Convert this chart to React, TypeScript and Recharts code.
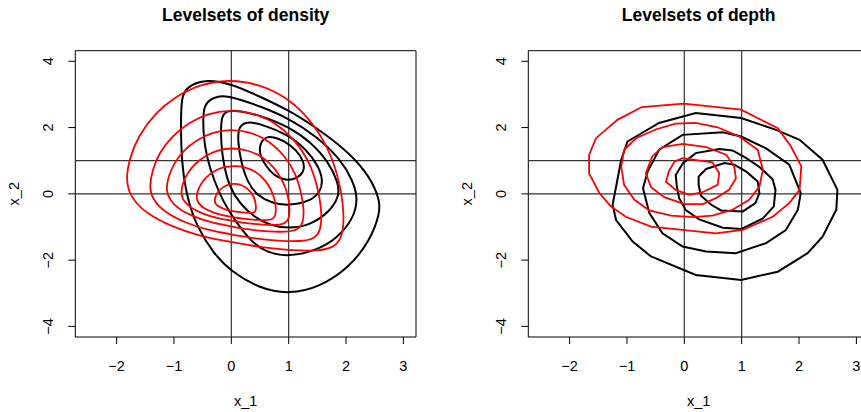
import { ScatterChart, Scatter, XAxis, YAxis, ReferenceLine, ReferenceArea } from "recharts";

type Pt = [number, number];

const X_TICKS = [-2, -1, 0, 1, 2, 3];
const Y_TICKS = [-4, -2, 0, 2, 4];
const X_DOMAIN: [number, number] = [-2.72, 3.22];
const Y_DOMAIN: [number, number] = [-4.32, 4.32];
const GUIDE_X = [0, 1];
const GUIDE_Y = [0, 1];

// left panel: density level sets, black (outer -> inner)
const densBlack1: Pt[] = [[-0.78, 3.21], [-0.49, 3.46], [0, 3.33], [0.5, 2.93], [1, 2.53], [1.55, 1.92], [2.07, 1.22], [2.42, 0.51], [2.59, -0.19], [2.59, -0.59], [2.42, -1.4], [2.07, -2.2], [1.55, -2.81], [1, -3.03], [0.5, -2.86], [0, -2.35], [-0.31, -1.8], [-0.6, -1.0], [-0.78, -0.09], [-0.87, 1.02], [-0.88, 2.12], [-0.87, 2.93]];
const densBlack2: Pt[] = [[-0.45, 2.78], [-0.2, 2.98], [0, 2.93], [0.5, 2.65], [1, 2.28], [1.5, 1.72], [1.9, 1.05], [2.12, 0.4], [2.21, -0.14], [2.13, -0.75], [1.84, -1.35], [1.49, -1.7], [1.01, -1.9], [0.62, -1.78], [0.35, -1.45], [0.06, -0.8], [-0.14, -0.24], [-0.3, 0.4], [-0.43, 1.1], [-0.49, 1.8], [-0.49, 2.45]];
const densBlack3: Pt[] = [[-0.14, 2.45], [0.05, 2.55], [0.5, 2.37], [1, 2.03], [1.4, 1.55], [1.7, 0.95], [1.86, 0.35], [1.89, -0.04], [1.72, -0.54], [1.37, -0.95], [1.0, -1.05], [0.67, -0.95], [0.4, -0.7], [0.15, -0.3], [-0.03, 0.2], [-0.13, 0.85], [-0.18, 1.5], [-0.18, 2.2]];
const densBlack4: Pt[] = [[0.13, 2.05], [0.27, 2.18], [0.5, 2.12], [1, 1.78], [1.3, 1.35], [1.52, 0.85], [1.6, 0.4], [1.55, 0.05], [1.38, -0.22], [1.0, -0.36], [0.7, -0.28], [0.45, -0.05], [0.28, 0.35], [0.17, 0.95], [0.11, 1.6]];
const densBlack5: Pt[] = [[0.62, 1.72], [0.73, 1.72], [0.91, 1.62], [1.14, 1.32], [1.27, 0.97], [1.27, 0.66], [1.14, 0.46], [0.96, 0.39], [0.73, 0.56], [0.59, 0.87], [0.47, 1.27], [0.53, 1.62]];

// left panel: density level sets, red (outer -> inner)
const densRed1: Pt[] = [[-1.84, 0.41], [-1.78, 1.05], [-1.62, 1.75], [-1.34, 2.42], [-0.98, 2.93], [-0.55, 3.3], [-0.05, 3.45], [0.45, 3.33], [1.0, 2.9], [1.45, 2.1], [1.75, 1.17], [1.9, 0.25], [1.97, -0.6], [1.94, -1.3], [1.8, -1.62], [1.5, -1.73], [1.0, -1.7], [0.45, -1.6], [0, -1.45], [-0.55, -1.28], [-1.05, -0.98], [-1.48, -0.6], [-1.76, -0.1]];
const densRed2: Pt[] = [[-1.43, 0.2], [-1.38, 0.7], [-1.26, 1.24], [-1.03, 1.75], [-0.75, 2.14], [-0.41, 2.43], [-0.02, 2.54], [0.38, 2.45], [0.81, 2.12], [1.17, 1.51], [1.41, 0.79], [1.52, 0.08], [1.58, -0.57], [1.56, -1.11], [1.45, -1.36], [1.21, -1.44], [0.81, -1.42], [0.38, -1.34], [0.02, -1.23], [-0.41, -1.1], [-0.81, -0.87], [-1.15, -0.57], [-1.37, -0.19]];
const densRed3: Pt[] = [[-1.14, 0.13], [-1.1, 0.51], [-1.0, 0.93], [-0.82, 1.34], [-0.59, 1.64], [-0.32, 1.86], [-0.01, 1.95], [0.31, 1.88], [0.65, 1.62], [0.94, 1.14], [1.13, 0.59], [1.22, 0.03], [1.27, -0.48], [1.25, -0.9], [1.16, -1.09], [0.97, -1.15], [0.65, -1.14], [0.31, -1.08], [0.02, -0.99], [-0.32, -0.88], [-0.64, -0.7], [-0.91, -0.48], [-1.08, -0.18]];
const densRed4: Pt[] = [[-0.88, 0.02], [-0.85, 0.31], [-0.77, 0.62], [-0.63, 0.92], [-0.45, 1.15], [-0.24, 1.32], [0.01, 1.39], [0.26, 1.33], [0.54, 1.14], [0.76, 0.78], [0.91, 0.36], [0.99, -0.05], [1.02, -0.44], [1.01, -0.75], [0.94, -0.9], [0.79, -0.95], [0.54, -0.93], [0.26, -0.89], [0.04, -0.82], [-0.24, -0.74], [-0.49, -0.61], [-0.7, -0.44], [-0.84, -0.21]];
const densRed5: Pt[] = [[-0.61, -0.12], [-0.59, 0.09], [-0.53, 0.31], [-0.43, 0.52], [-0.3, 0.69], [-0.14, 0.81], [0.04, 0.85], [0.23, 0.82], [0.43, 0.68], [0.59, 0.42], [0.7, 0.12], [0.76, -0.17], [0.78, -0.44], [0.77, -0.67], [0.72, -0.77], [0.61, -0.8], [0.43, -0.79], [0.23, -0.76], [0.06, -0.71], [-0.14, -0.66], [-0.32, -0.56], [-0.48, -0.44], [-0.58, -0.28]];
const densRed6: Pt[] = [[-0.29, -0.21], [-0.28, -0.1], [-0.25, 0.02], [-0.2, 0.13], [-0.13, 0.22], [-0.05, 0.28], [0.05, 0.31], [0.14, 0.29], [0.25, 0.21], [0.33, 0.08], [0.39, -0.08], [0.42, -0.24], [0.43, -0.38], [0.43, -0.5], [0.4, -0.56], [0.34, -0.58], [0.25, -0.57], [0.14, -0.55], [0.06, -0.53], [-0.05, -0.5], [-0.14, -0.45], [-0.22, -0.38], [-0.28, -0.3]];

// right panel: depth level sets, black (outer -> inner)
const depthBlack1: Pt[] = [[-0.99, 1.58], [-0.44, 2.14], [0.2, 2.44], [0.99, 2.29], [1.6, 1.93], [2.01, 1.63], [2.41, 1.03], [2.67, 0.12], [2.65, -0.48], [2.41, -1.29], [2.15, -1.79], [1.63, -2.35], [0.99, -2.6], [0.2, -2.45], [-0.58, -1.89], [-0.9, -1.44], [-1.19, -0.79], [-1.25, -0.33], [-1.1, 1.03]];
const depthBlack2: Pt[] = [[-0.72, 0.17], [-0.64, 0.67], [-0.44, 1.33], [-0.03, 1.78], [0.67, 1.86], [0.99, 1.73], [1.42, 1.38], [1.83, 0.88], [2.03, 0.02], [1.98, -0.48], [1.77, -1.09], [1.42, -1.49], [0.9, -1.79], [0.38, -1.74], [-0.03, -1.59], [-0.38, -1.19], [-0.61, -0.58]];
const depthBlack3: Pt[] = [[-0.15, 0.57], [-0.02, 0.93], [0.2, 1.23], [0.61, 1.35], [0.84, 1.31], [1.08, 1.08], [1.31, 0.81], [1.54, 0.44], [1.59, 0.12], [1.56, -0.38], [1.37, -0.74], [1.0, -1.06], [0.67, -1.02], [0.26, -0.77], [0.03, -0.5], [-0.09, -0.13], [-0.13, 0.22]];
const depthBlack4: Pt[] = [[0.25, 0.52], [0.38, 0.75], [0.7, 0.93], [0.87, 0.88], [1.08, 0.67], [1.28, 0.37], [1.31, 0.02], [1.24, -0.28], [1.02, -0.53], [0.64, -0.5], [0.47, -0.33], [0.29, -0.06], [0.25, 0.27]];

// right panel: depth level sets, red (outer -> inner)
const depthRed1: Pt[] = [[-1.66, 1.18], [-1.54, 1.68], [-1.16, 2.24], [-0.74, 2.62], [-0.01, 2.72], [0.99, 2.54], [1.63, 1.98], [1.86, 1.43], [2.04, 0.83], [2.01, 0.12], [1.83, -0.28], [1.54, -0.69], [1.02, -1.09], [0.55, -1.19], [-0.58, -0.99], [-1.02, -0.69], [-1.28, -0.38], [-1.48, 0.02], [-1.66, 0.62]];
const depthRed2: Pt[] = [[-1.1, 0.83], [-1.05, 1.33], [-0.84, 1.68], [-0.49, 1.95], [-0.15, 2.12], [0.2, 2.14], [0.58, 2.01], [0.96, 1.73], [1.28, 1.33], [1.37, 0.73], [1.31, 0.22], [1.13, -0.18], [0.84, -0.48], [0.49, -0.66], [0.15, -0.7], [-0.23, -0.66], [-0.61, -0.5], [-0.87, -0.18], [-1.05, 0.27]];
const depthRed3: Pt[] = [[-0.67, 0.62], [-0.56, 1.13], [-0.38, 1.41], [-0.02, 1.51], [0.38, 1.41], [0.73, 1.18], [0.87, 0.83], [0.9, 0.47], [0.78, 0.12], [0.55, -0.13], [0.32, -0.31], [0, -0.31], [-0.35, -0.1], [-0.58, 0.2]];
const depthRed4: Pt[] = [[-0.32, 0.37], [-0.27, 0.67], [-0.17, 0.98], [-0.03, 1.08], [0.49, 0.95], [0.61, 0.62], [0.58, 0.27], [0.32, 0.05], [0.09, -0.03], [-0.15, 0.12]];

const FONT = '"Liberation Sans", Arial, Helvetica, sans-serif';
const PANEL_W = 454;
const PANEL_STEP = 453.4;

const toPts = (c: Pt[]) => c.map(([x, y]) => ({ x, y }));
const noDot = () => <g />;
const fmt = (v: number) => (v < 0 ? `\u2212${Math.abs(v)}` : `${v}`);

function XTick({ x, payload }: any) {
  return (
    <text x={x} y={370.5} textAnchor="middle" fontSize={14.5} fontFamily={FONT} fill="#000">
      {fmt(payload.value)}
    </text>
  );
}

function YTick({ y, payload }: any) {
  return (
    <text x={53.5} y={y} transform={`rotate(-90 53.5 ${y})`} textAnchor="middle" fontSize={14.5} fontFamily={FONT} fill="#000">
      {fmt(payload.value)}
    </text>
  );
}

interface PanelProps {
  left: number;
  title: string;
  black: Pt[][];
  red: Pt[][];
  curve: "basisClosed" | "linearClosed";
}

function Panel({ left, title, black, red, curve }: PanelProps) {
  return (
    <div style={{ position: "absolute", left, top: 0, width: PANEL_W, height: 412 }}>
      <ScatterChart width={PANEL_W} height={412} margin={{ top: 50.7, right: 38, bottom: 0, left: 0 }}>
        <XAxis
          type="number"
          dataKey="x"
          domain={X_DOMAIN}
          ticks={X_TICKS}
          interval={0}
          allowDataOverflow
          axisLine={false}
          tickLine={{ stroke: "#000" }}
          tickSize={7}
          tick={<XTick />}
          height={75}
        />
        <YAxis
          type="number"
          dataKey="y"
          domain={Y_DOMAIN}
          ticks={Y_TICKS}
          interval={0}
          allowDataOverflow
          axisLine={false}
          tickLine={{ stroke: "#000" }}
          tickSize={7}
          tick={<YTick />}
          width={75.3}
        />
        {GUIDE_X.map((v) => (
          <ReferenceLine key={`gx${v}`} x={v} stroke="#333" strokeWidth={1.2} />
        ))}
        {GUIDE_Y.map((v) => (
          <ReferenceLine key={`gy${v}`} y={v} stroke="#333" strokeWidth={1.2} />
        ))}
        {black.map((c, i) => (
          <Scatter
            key={`b${i}`}
            data={toPts(c)}
            fill="#000"
            line={{ stroke: "#000", strokeWidth: 2 }}
            lineJointType={curve}
            shape={noDot}
            isAnimationActive={false}
          />
        ))}
        {red.map((c, i) => (
          <Scatter
            key={`r${i}`}
            data={toPts(c)}
            fill="#ff0000"
            line={{ stroke: "#ff0000", strokeWidth: 1.8 }}
            lineJointType={curve}
            shape={noDot}
            isAnimationActive={false}
          />
        ))}
        <ReferenceArea
          x1={X_DOMAIN[0]}
          x2={X_DOMAIN[1]}
          y1={Y_DOMAIN[0]}
          y2={Y_DOMAIN[1]}
          fill="none"
          fillOpacity={0}
          stroke="#000"
          strokeWidth={1}
        />
      </ScatterChart>
      <svg width={PANEL_W} height={412} style={{ position: "absolute", left: 0, top: 0, pointerEvents: "none" }}>
        <text x={245.7} y={20.7} textAnchor="middle" fontWeight="bold" fontSize={17.5} fontFamily={FONT} fill="#000">
          {title}
        </text>
        <text x={245.7} y={405.5} textAnchor="middle" fontSize={14.5} fontFamily={FONT} fill="#000">
          x_1
        </text>
        <text x={19.5} y={193.7} transform="rotate(-90 19.5 193.7)" textAnchor="middle" fontSize={14.5} fontFamily={FONT} fill="#000">
          x_2
        </text>
      </svg>
    </div>
  );
}

export default function App() {
  return (
    <div
      style={{
        position: "absolute",
        left: 0,
        top: 0,
        width: 861,
        height: 412,
        overflow: "hidden",
        background: "#fff",
        fontFamily: FONT,
      }}
    >
      <Panel
        left={0}
        title="Levelsets of density"
        black={[densBlack1, densBlack2, densBlack3, densBlack4, densBlack5]}
        red={[densRed1, densRed2, densRed3, densRed4, densRed5, densRed6]}
        curve="basisClosed"
      />
      <Panel
        left={PANEL_STEP}
        title="Levelsets of depth"
        black={[depthBlack1, depthBlack2, depthBlack3, depthBlack4]}
        red={[depthRed1, depthRed2, depthRed3, depthRed4]}
        curve="linearClosed"
      />
    </div>
  );
}
